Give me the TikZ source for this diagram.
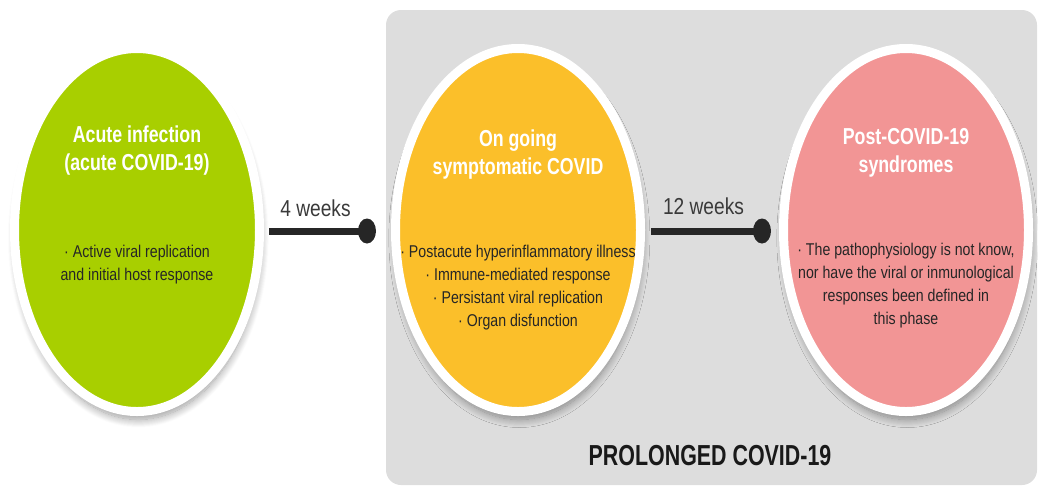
\documentclass[tikz,border=0pt]{standalone}
\usepackage{fontspec}
\setmainfont{Liberation Sans}[FakeStretch=0.83]
\newfontfamily\narrowbold{Liberation Sans}[FakeStretch=0.74]
\newfontfamily\titlefont{Liberation Sans}[FakeStretch=0.77]
\usetikzlibrary{shapes.geometric,shadows.blur}
\definecolor{acutegreen}{RGB}{168,207,0}
\definecolor{ongoingyellow}{RGB}{251,191,42}
\definecolor{postpink}{RGB}{242,149,149}
\definecolor{panelgray}{RGB}{221,221,221}
\definecolor{labelgray}{RGB}{58,58,58}
\tikzset{every picture/.style={line width=0.75pt},
  phase/.style={ellipse, draw=white, line width=6.75pt, minimum width=183.75pt, minimum height=272.25pt, inner sep=0pt,
    blur shadow={shadow xshift=1pt, shadow yshift=-6pt, shadow blur radius=6pt, shadow blur steps=16, shadow opacity=40}},
  phasetitle/.style={inner sep=0.75pt, align=center, text=white, font=\titlefont\bfseries\fontsize{17.3}{21}\selectfont},
  phasetext/.style={inner sep=0.75pt, align=center, text=black!85, font=\fontsize{12.8}{17.25}\selectfont},
  weekline/.style={line width=5.25pt, draw=black!85},
  weekdot/.style={ellipse, fill=black!85, minimum width=13.5pt, minimum height=18.75pt, inner sep=0pt},
  weeklabel/.style={inner sep=0.75pt, text=labelgray, font=\fontsize{17.3}{20}\selectfont}
}

\begin{document}
\begin{tikzpicture}[x=0.75pt,y=0.75pt,yscale=-1,xscale=1]
\useasboundingbox (0,0) rectangle (1039,487);

%Shape: Rounded Rect
\draw [draw=none, fill=panelgray, rounded corners=11.25pt] (386,10) rectangle (1037,485);

%Shape: Ellipse
\node [phase, fill=acutegreen] (acute) at (137,230) {};
%Shape: Ellipse
\node [phase, fill=ongoingyellow] (ongoing) at (518,230) {};
%Shape: Ellipse
\node [phase, fill=postpink] (post) at (906,230) {};

%Shape: Dots
\node [weekdot] (dotfour) at (367,231) {};
\node [weekdot] (dottwelve) at (762,231) {};

%Straight Lines
\draw [weekline, shorten <=3.75pt] (acute.east |- dotfour) -- node [weeklabel, above=7.5pt] (fourweeks) {4 weeks} (dotfour.center);
%Straight Lines
\draw [weekline, shorten <=4.5pt] (ongoing.east |- dottwelve) -- node [weeklabel, above=8.5pt] (twelveweeks) {12 weeks} (dottwelve.center);

% Text Node
\node [phasetitle] (acutetitle) at (137,151) {Acute infection\\(acute COVID-19)};
% Text Node
\node [phasetext] (acutetext) at (137,265) {· Active viral replication\\and initial host response};
% Text Node
\node [phasetitle] (ongoingtitle) at (518,155) {On going\\symptomatic COVID};
% Text Node
\node [phasetext] (ongoingtext) at (518,288) {· Postacute hyperinflammatory illness\\· Immune-mediated response\\· Persistant viral replication\\· Organ disfunction};
% Text Node
\node [phasetitle] (posttitle) at (906,153) {Post-COVID-19\\syndromes};
% Text Node
\node [phasetext] (posttext) at (906,286) {· The pathophysiology is not know,\\nor have the viral or inmunological\\responses been defined in\\this phase};
% Text Node
\node [text=black!90, inner sep=0.75pt, font={\narrowbold\bfseries\fontsize{21.7}{24}\selectfont}] (prolonged) at (710,456) {PROLONGED COVID-19};

\end{tikzpicture}
\end{document}
